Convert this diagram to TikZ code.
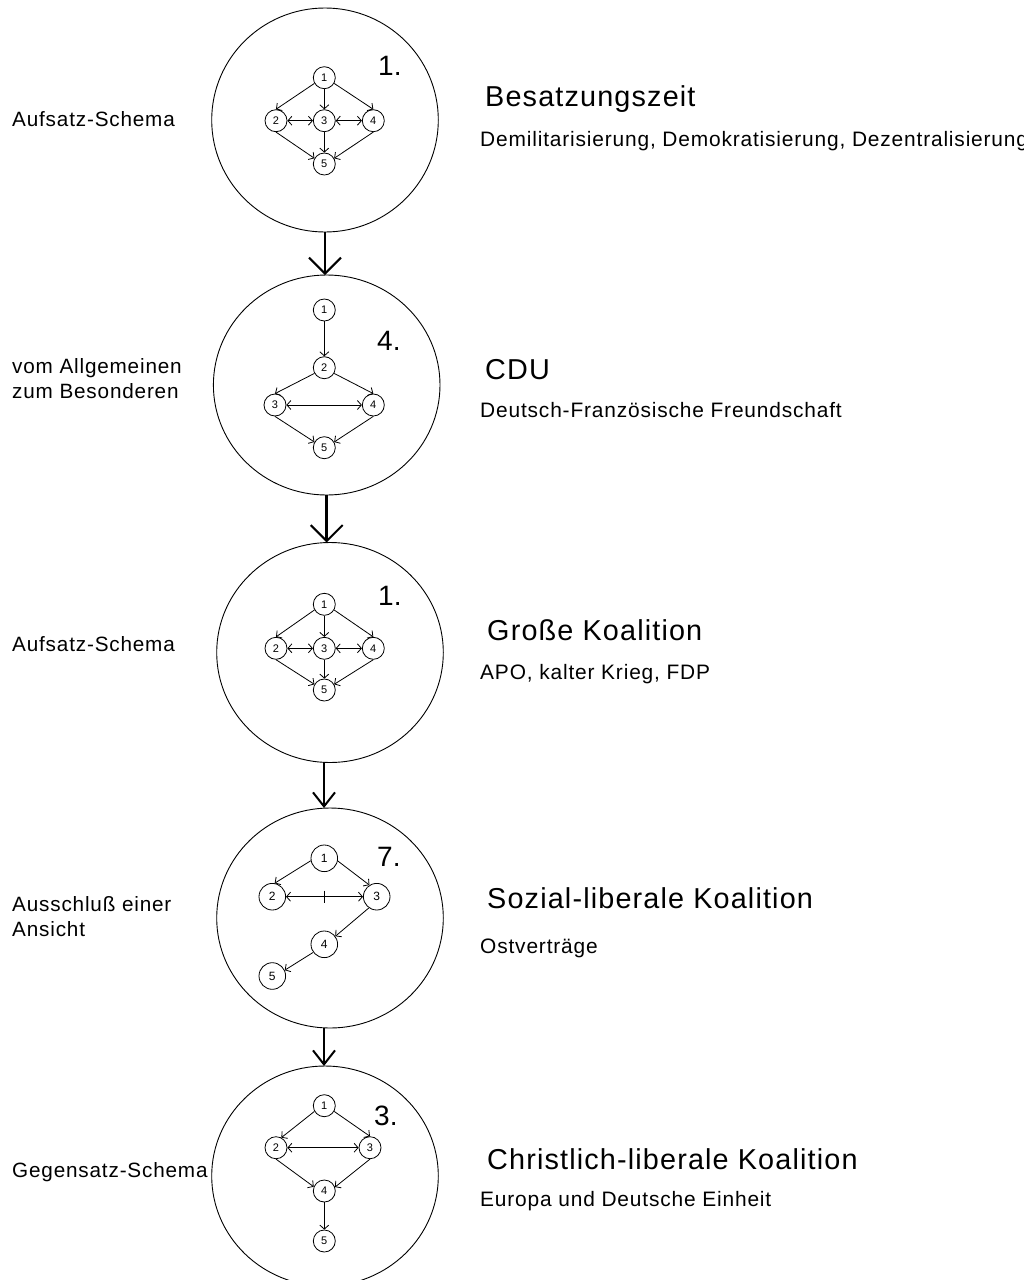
\documentclass[tikz,border=0pt]{standalone}
\usepackage{fontspec}
\setmainfont[LetterSpace=4]{Liberation Sans}
\usetikzlibrary{shapes.geometric,arrows.meta,calc}

\begin{document}
\begin{tikzpicture}[x=1pt,y=-1pt,
  big/.style={ellipse, draw, line width=0.9pt, minimum width=226.6pt, minimum height=220pt, inner sep=0pt, outer sep=0pt},
  pt/.style={circle, draw, line width=0.8pt, minimum size=22pt, inner sep=0pt, font=\fontsize{11}{11}\selectfont},
  ptl/.style={pt, minimum size=26.6pt, font=\fontsize{12}{12}\selectfont},
  ed/.style={line width=0.8pt, -{Straight Barb[length=4pt,width=9pt]}},
  bd/.style={line width=0.8pt, {Straight Barb[length=4pt,width=9pt]}-{Straight Barb[length=4pt,width=9pt]}},
  flowA/.style={line width=2.7pt, -{Straight Barb[length=16pt,width=32pt,line width=2pt]}},
  flowB/.style={line width=2.9pt, -{Straight Barb[length=14pt,width=22pt,line width=2pt]}},
  side/.style={anchor=base west, inner sep=0pt, font=\fontsize{20.7}{25}\selectfont},
  title/.style={anchor=base west, inner sep=0pt, font=\fontsize{28.8}{30}\selectfont},
  sub/.style={anchor=base west, inner sep=0pt, font=\fontsize{20.9}{25}\selectfont},
  num/.style={anchor=base west, inner sep=0pt, font=\fontsize{28}{30}\selectfont\addfontfeatures{LetterSpace=0}},
]
\clip (0,0) rectangle (1024,1280);
\useasboundingbox (0,0) rectangle (1024,1280);

% ---------- big circles ----------
\node[big, minimum height=224pt] (c1) at (325,120) {};
\node[big] (c2) at (326.7,385) {};
\node[big] (c3) at (330,652.5) {};
\node[big] (c4) at (330,918) {};
\node[big] (c5) at (325,1176) {};

% ---------- flow between stages ----------
\draw[flowA] (c1.south) -- (c1.south |- c2.north);
\draw[flowA] (c2.south) -- (c2.south |- c3.north);
\draw[flowB] (c3.south) ++(-6,0) coordinate (f3) -- (f3 |- c4.north);
\draw[flowB] (c4.south) ++(-6,0) coordinate (f4) -- (f4 |- c5.north);

% ---------- stage 1: Aufsatz-Schema ----------
\node[pt] (p1) at (324.3,77.7) {1};
\node[pt] (p2) at (276,120.7) {2};
\node[pt] (p3) at (324.3,120.7) {3};
\node[pt] (p4) at (373.3,120.7) {4};
\node[pt] (p5) at (324.3,164) {5};
\draw[ed] (p1.210) -- (p2.north);
\draw[ed] (p1) -- (p3);
\draw[ed] (p1.330) -- (p4.north);
\draw[bd] (p2) -- (p3);
\draw[bd] (p3) -- (p4);
\draw[ed] (p2.south) -- (p5.150);
\draw[ed] (p3) -- (p5);
\draw[ed] (p4.south) -- (p5.30);
\node[num] (k1) at (378,75) {1.};
\node[side] (l1) at (12,126) {Aufsatz-Schema};
\node[title] (t1) at (485,106.7) {Besatzungszeit};
\node[sub] (s1) at (480,146) {Demilitarisierung, Demokratisierung, Dezentralisierung};

% ---------- stage 2: vom Allgemeinen zum Besonderen ----------
\node[pt] (q1) at (324.3,310) {1};
\node[pt] (q2) at (324.3,367.7) {2};
\node[pt] (q3) at (275,405) {3};
\node[pt] (q4) at (373.3,405) {4};
\node[pt] (q5) at (324.3,447.7) {5};
\draw[ed] (q1) -- (q2);
\draw[ed] (q2.210) -- (q3.north);
\draw[ed] (q2.330) -- (q4.north);
\draw[bd] (q3) -- (q4);
\draw[ed] (q3.south) -- (q5.150);
\draw[ed] (q4.south) -- (q5.30);
\node[num] (k2) at (377,350) {4.};
\node[side] (l2a) at (12,373) {vom Allgemeinen};
\node[side] (l2b) at (12,398) {zum Besonderen};
\node[title] (t2) at (485,379) {CDU};
\node[sub] (s2) at (480,417) {Deutsch-Französische Freundschaft};

% ---------- stage 3: Aufsatz-Schema ----------
\node[pt] (b1) at (324.3,604.3) {1};
\node[pt] (b2) at (276,648.3) {2};
\node[pt] (b3) at (324.3,648.3) {3};
\node[pt] (b4) at (373.3,648.3) {4};
\node[pt] (b5) at (324.3,690) {5};
\draw[ed] (b1.210) -- (b2.north);
\draw[ed] (b1) -- (b3);
\draw[ed] (b1.330) -- (b4.north);
\draw[bd] (b2) -- (b3);
\draw[bd] (b3) -- (b4);
\draw[ed] (b2.south) -- (b5.150);
\draw[ed] (b3) -- (b5);
\draw[ed] (b4.south) -- (b5.30);
\node[num] (k3) at (378,605) {1.};
\node[side] (l3) at (12,651) {Aufsatz-Schema};
\node[title] (t3) at (487,640) {Große Koalition};
\node[sub] (s3) at (480,679) {APO, kalter Krieg, FDP};

% ---------- stage 4: Ausschluß einer Ansicht ----------
\node[ptl] (d1) at (324.3,858.3) {1};
\node[ptl] (d2) at (272.3,896.7) {2};
\node[ptl] (d3) at (376.7,896.7) {3};
\node[ptl] (d4) at (324.3,944.3) {4};
\node[ptl] (d5) at (272.3,976) {5};
\draw[ed] (d1.190) -- (d2.80);
\draw[ed] (d1.349) -- (d3.122);
\draw[bd] (d2) -- (d3);
\coordinate (dm) at ($(d2)!0.5!(d3)$);
\draw[line width=0.8pt] ($(dm)+(0,-6)$) -- ($(dm)+(0,6)$);
\draw[ed] (d3.235) -- (d4.36);
\draw[ed] (d4.216) -- (d5.25);
\node[num] (k4) at (377,866.7) {7.};
\node[side] (l4a) at (12,911) {Ausschluß einer};
\node[side] (l4b) at (12,936) {Ansicht};
\node[title] (t4) at (487,908) {Sozial-liberale Koalition};
\node[sub] (s4) at (480,953) {Ostverträge};

% ---------- stage 5: Gegensatz-Schema ----------
\node[pt] (e1) at (324.3,1105.7) {1};
\node[pt] (e2) at (276,1147.7) {2};
\node[pt] (e3) at (370,1147.7) {3};
\node[pt] (e4) at (324.3,1191) {4};
\node[pt] (e5) at (324.3,1241) {5};
\draw[ed] (e1.210) -- (e2.62);
\draw[ed] (e1.330) -- (e3.north);
\draw[bd] (e2) -- (e3);
\draw[ed] (e2.south) -- (e4.158);
\draw[ed] (e3.south) -- (e4.20);
\draw[ed] (e4) -- (e5);
\node[num] (k5) at (374,1125) {3.};
\node[side] (l5) at (12,1177) {Gegensatz-Schema};
\node[title] (t5) at (487,1169) {Christlich-liberale Koalition};
\node[sub] (s5) at (480,1206) {Europa und Deutsche Einheit};
\end{tikzpicture}
\end{document}
